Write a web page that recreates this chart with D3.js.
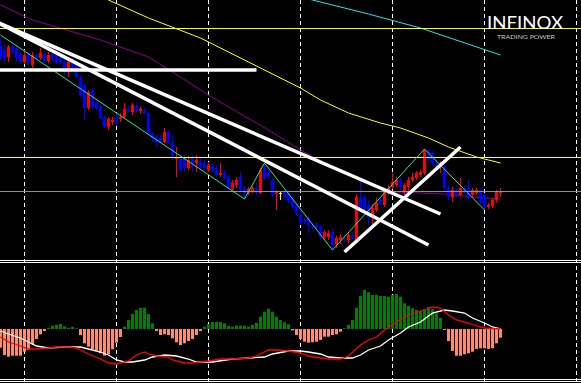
<!DOCTYPE html>
<html>
<head>
<meta charset="utf-8">
<script src="https://d3js.org/d3.v7.min.js"></script>
<style>
  html, body { margin: 0; padding: 0; background: #000; overflow: hidden; }
  svg { display: block; }
</style>
</head>
<body>
<div id="chart"></div>
<script>
// candles, one per bar (bar 0 = left edge)
var opens = [
  1954,1950,1943,1953,1952,1946,1938,1947,1935,1945,
  1942,1946,1939,1946,1945,1943,1938,1930,1939,1937,
  1922,1915,1892,1910,1897,1893,1883,1873,1878,1882,
  1881,1883,1891,1888,1894,1889,1890,1887,1867,1863,
  1862,1858,1868,1857,1841,1842,1842,1832,1842,1837,
  1838,1837,1830,1834,1832,1825,1827,1823,1811,1815,
  1823,1812,1807,1809,1812,1807,1832,1828,1820,1806,
  1807,1808,1807,1802,1795,1785,1780,1782,1775,1775,
  1773,1763,1763,1768,1755,1760,1762,1760,1765,1758,
  1803,1803,1795,1782,1790,1800,1795,1807,1813,1815,
  1820,1808,1813,1820,1822,1825,1827,1850,1847,1837,
  1833,1833,1812,1803,1810,1805,1812,1812,1805,1807,
  1810,1805,1793,1794,1800,1807];
var closes = [
  1942,1942,1953,1948,1942,1938,1945,1937,1945,1942,
  1947,1939,1945,1942,1937,1938,1928,1938,1930,1923,
  1905,1892,1908,1893,1892,1882,1873,1881,1880,1877,
  1883,1891,1888,1895,1889,1891,1887,1866,1862,1858,
  1858,1868,1857,1842,1843,1830,1832,1840,1835,1840,
  1833,1832,1835,1830,1825,1827,1822,1812,1817,1820,
  1810,1807,1811,1812,1807,1830,1822,1823,1805,1808,
  1807,1803,1799,1793,1787,1777,1778,1775,1773,1772,
  1763,1768,1767,1755,1762,1763,1761,1765,1763,1803,
  1792,1790,1782,1792,1797,1796,1810,1812,1818,1820,
  1812,1815,1820,1823,1827,1828,1850,1840,1837,1832,
  1837,1812,1803,1810,1805,1812,1808,1802,1810,1810,
  1798,1793,1795,1800,1808,1809];
var highs = [
  1962,1955,1955,1955,1954,1948,1950,1948,1948,1946,
  1952,1948,1948,1947,1946,1944,1945,1942,1942,1938,
  1925,1916,1910,1912,1900,1896,1885,1883,1883,1887,
  1887,1897,1894,1897,1897,1893,1892,1888,1868,1865,
  1865,1872,1870,1865,1853,1845,1845,1844,1845,1845,
  1842,1840,1838,1837,1835,1837,1830,1825,1820,1823,
  1828,1814,1813,1814,1817,1832,1837,1830,1822,1810,
  1808,1810,1810,1804,1797,1792,1782,1784,1777,1778,
  1775,1770,1770,1771,1764,1766,1765,1767,1768,1806,
  1820,1805,1800,1796,1802,1803,1812,1815,1827,1823,
  1822,1817,1823,1827,1829,1830,1851,1850,1849,1840,
  1839,1835,1815,1813,1812,1822,1814,1820,1812,1812,
  1812,1807,1797,1802,1810,1812];
var lows = [
  1940,1938,1938,1946,1938,1937,1936,1935,1932,1940,
  1940,1937,1937,1938,1936,1936,1925,1923,1928,1922,
  1903,1880,1890,1892,1890,1881,1872,1870,1875,1875,
  1878,1882,1887,1885,1888,1886,1886,1865,1858,1853,
  1857,1857,1856,1840,1823,1828,1828,1830,1828,1828,
  1831,1830,1828,1828,1823,1823,1820,1810,1809,1812,
  1808,1801,1805,1807,1805,1806,1820,1821,1803,1790,
  1800,1801,1797,1791,1785,1775,1776,1767,1771,1770,
  1761,1761,1760,1750,1752,1756,1758,1757,1760,1756,
  1790,1787,1775,1775,1788,1794,1793,1805,1811,1813,
  1810,1805,1803,1818,1820,1823,1825,1838,1835,1830,
  1827,1810,1800,1798,1803,1804,1806,1800,1803,1805,
  1796,1790,1791,1792,1797,1803];

// moving averages [bar, price]
var purpleMa = [[-1,1997],[8,1980],[25,1960],[37,1943],[43,1928],[50,1910],[54,1900],[67,1870],
  [75,1850],[82,1835],[89,1822],[95,1811],[99,1808],[111,1806],[118,1803],[125,1801]];
var yellowMa = [[20,2012],[27,2000],[37,1982],[50,1962],[62,1938],[75,1912],[80,1900],[87,1887],
  [95,1877],[100,1872],[107,1862],[112,1853],[119,1843],[125,1837]];
var cyanMa = [[70,2008],[78,2000],[92,1986],[105,1972],[125,1945]];

// zigzag swing points [bar, price]
var zigzag = [[0,1965],[61,1801],[66,1837],[83,1750],[106,1851],[121,1790]];

// drawn trend lines [[bar, price], [bar, price]]
var trendLines = [
  [[-1,1978],[110,1786]],
  [[-1,1978],[107,1755]],
  [[86,1748],[115,1853]],
  [[-1,1930],[64,1930]]
];

// horizontal levels
var levelPrices = [1972, 1843, 1809];

// grid (time separators) at these bars
var gridBars = [6, 29, 52, 75, 98, 121, 144];

// oscillator histogram, one per bar
var histValues = [
  -18.7,-26,-27.7,-26.7,-26.7,-26.7,-22.7,-21,-15.3,-10,
  -5.3,-2,1.3,3.3,4,5,2.7,1.3,2,0.7,
  -6,-14.3,-17.7,-20.3,-21.7,-24.3,-26.7,-25.3,-20.3,-13.7,
  -8,2.3,9,15,19,21.3,21.3,15,5.7,-2,
  -6,-5.3,-6,-9.3,-13.3,-16,-14.3,-12,-10,-6,
  -2,2.3,5,7,7,7,5.7,3,2.3,3.3,
  3.3,3.3,2.3,4,6,12.3,17.3,20,17.3,12.3,
  9,6.7,4.7,-1.3,-6,-10,-12.7,-13.7,-13.3,-12.7,
  -11,-7.7,-7.7,-6,-5.3,-2.7,0.7,4,9,21.3,
  33,39,36.7,34,34,33,33,32.3,34,35,
  32.3,25.7,23,20.7,19,18.3,20,22,20,15.7,
  11,-1,-12,-22,-26.7,-26.7,-25.3,-24.3,-22.7,-20,
  -19.3,-19.3,-20,-19.3,-14.3,-8.7];

// oscillator lines [bar, value]
var mainLine = [[0,-2],[2,-5],[5,-9],[7,-13],[9,-17],[12,-19],[16,-18],[20,-18],[22,-20],[25,-23],
  [27,-26],[29,-31],[31,-33],[33,-33],[36,-31],[38,-28],[41,-26],[44,-27],[47,-30],[49,-33],
  [53,-33],[58,-30],[62,-29],[66,-28],[68,-25],[72,-22],[75,-22],[77,-23],[80,-25],[82,-28],
  [85,-29],[88,-29],[90,-26],[92,-21],[95,-17],[97,-11],[100,-4],[102,2],[105,7],[108,16],
  [111,19],[113,18],[116,16],[118,11],[121,6],[123,2],[125,0]];
var signalLine = [[0,-8],[2,-13],[5,-17],[7,-20],[9,-20],[12,-19],[14,-18],[17,-18],[19,-19],[21,-23],
  [22,-25],[25,-30],[27,-34],[29,-35],[32,-32],[34,-26],[36,-23],[37,-25],[39,-27],[42,-28],
  [43,-31],[46,-34],[48,-34],[52,-32],[55,-30],[58,-30],[62,-29],[64,-27],[67,-21],[69,-21],
  [72,-22],[75,-24],[77,-27],[80,-29],[82,-30],[85,-30],[87,-27],[90,-16],[92,-11],[94,-8],
  [96,-1],[99,7],[102,14],[106,19],[108,22],[110,21],[112,14],[114,9],[117,6],[119,3],
  [121,1],[125,0]];

var width = 581, height = 383;

var svg = d3.select("#chart").append("svg")
    .attr("width", width)
    .attr("height", height)
    .style("background", "#000");

// scales
var x = d3.scaleLinear().domain([0, 145]).range([0.5, 580.5]);
var y = d3.scaleLinear().domain([1740, 2000]).range([260, 0]);
var yInd = d3.scaleLinear().domain([-50, 67]).range([379, 262]);

var defs = svg.append("defs");
defs.append("clipPath").attr("id", "clipMain")
    .append("rect").attr("x", 0).attr("y", 0).attr("width", width).attr("height", 260);
defs.append("clipPath").attr("id", "clipInd")
    .append("rect").attr("x", 0).attr("y", 263).attr("width", width).attr("height", 116);

// grid
svg.append("g").selectAll("line")
    .data(gridBars)
    .enter().append("line")
    .attr("x1", function (d) { return x(d); })
    .attr("x2", function (d) { return x(d); })
    .attr("y1", 0)
    .attr("y2", height)
    .attr("stroke", "#ffffff")
    .attr("stroke-width", 1)
    .attr("stroke-dasharray", "4,3");

var main = svg.append("g").attr("clip-path", "url(#clipMain)");

var priceLine = d3.line()
    .x(function (d) { return x(d[0]); })
    .y(function (d) { return y(d[1]); });

// moving averages
main.append("path").datum(purpleMa).attr("d", priceLine)
    .attr("fill", "none").attr("stroke", "#8a008a").attr("stroke-width", 1);
main.append("path").datum(yellowMa).attr("d", priceLine)
    .attr("fill", "none").attr("stroke", "#ffff00").attr("stroke-width", 1);
main.append("path").datum(cyanMa).attr("d", priceLine)
    .attr("fill", "none").attr("stroke", "#1ee6f0").attr("stroke-width", 1);

// candles
var candleColor = function (i) {
    if (closes[i] > opens[i]) return "#ff0000";
    if (closes[i] < opens[i]) return "#0000ff";
    return "#ffff00";
};
var bars = d3.range(opens.length);

main.append("g").selectAll("line")
    .data(bars)
    .enter().append("line")
    .attr("x1", function (i) { return x(i); })
    .attr("x2", function (i) { return x(i); })
    .attr("y1", function (i) { return y(highs[i]); })
    .attr("y2", function (i) { return y(lows[i]); })
    .attr("stroke", candleColor)
    .attr("stroke-width", 1);

main.append("g").selectAll("rect")
    .data(bars)
    .enter().append("rect")
    .attr("x", function (i) { return x(i) - 1.5; })
    .attr("width", 3)
    .attr("y", function (i) { return y(Math.max(opens[i], closes[i])); })
    .attr("height", function (i) { return Math.max(1, Math.abs(y(opens[i]) - y(closes[i]))); })
    .attr("fill", candleColor);

// levels
var levelColors = ["#ffff00", "#ffff00", "#8c919a"];
main.append("g").selectAll("line")
    .data(levelPrices)
    .enter().append("line")
    .attr("x1", 0)
    .attr("x2", width)
    .attr("y1", function (d) { return y(d) + 0.5; })
    .attr("y2", function (d) { return y(d) + 0.5; })
    .attr("stroke", function (d, i) { return levelColors[i]; })
    .attr("stroke-width", 1);

// zigzag
main.append("path").datum(zigzag).attr("d", priceLine)
    .attr("fill", "none").attr("stroke", "#2ee68e").attr("stroke-width", 1);

// trend lines
main.append("g").selectAll("path")
    .data(trendLines)
    .enter().append("path")
    .attr("d", priceLine)
    .attr("fill", "none")
    .attr("stroke", "#ffffff")
    .attr("stroke-width", 3.5);

// oscillator panel
var ind = svg.append("g").attr("clip-path", "url(#clipInd)");

ind.append("g").selectAll("rect")
    .data(histValues)
    .enter().append("rect")
    .attr("x", function (d, i) { return x(i) - 1.5; })
    .attr("width", 3)
    .attr("y", function (d) { return yInd(Math.max(0, d)); })
    .attr("height", function (d) { return Math.abs(yInd(d) - yInd(0)); })
    .attr("fill", function (d) { return d >= 0 ? "#008000" : "#ff8c64"; });

var indLine = d3.line()
    .x(function (d) { return x(d[0]); })
    .y(function (d) { return yInd(d[1]); });

ind.append("path").datum(mainLine).attr("d", indLine)
    .attr("fill", "none").attr("stroke", "#ffffff").attr("stroke-width", 1.3);
ind.append("path").datum(signalLine).attr("d", indLine)
    .attr("fill", "none").attr("stroke", "#ff0000").attr("stroke-width", 1.3);

// panel separators
svg.append("g").selectAll("line")
    .data([260.5, 262.5, 379.5, 381.5])
    .enter().append("line")
    .attr("x1", 0)
    .attr("x2", width)
    .attr("y1", function (d) { return d; })
    .attr("y2", function (d) { return d; })
    .attr("stroke", "#ffffff")
    .attr("stroke-width", 1);

// logo
svg.append("text")
    .attr("x", 487)
    .attr("y", 28.5)
    .attr("textLength", 76)
    .attr("lengthAdjust", "spacingAndGlyphs")
    .style("font-family", "Lato, 'Open Sans', sans-serif")
    .style("font-size", "18px")
    .style("fill", "#ffffff")
    .text("INFINOX");

svg.append("text")
    .attr("x", 497)
    .attr("y", 38.5)
    .attr("textLength", 58)
    .attr("lengthAdjust", "spacingAndGlyphs")
    .style("font-family", "Lato, 'Open Sans', sans-serif")
    .style("font-size", "5.5px")
    .style("fill", "#c8c8c8")
    .text("TRADING POWER");
</script>
</body>
</html>
